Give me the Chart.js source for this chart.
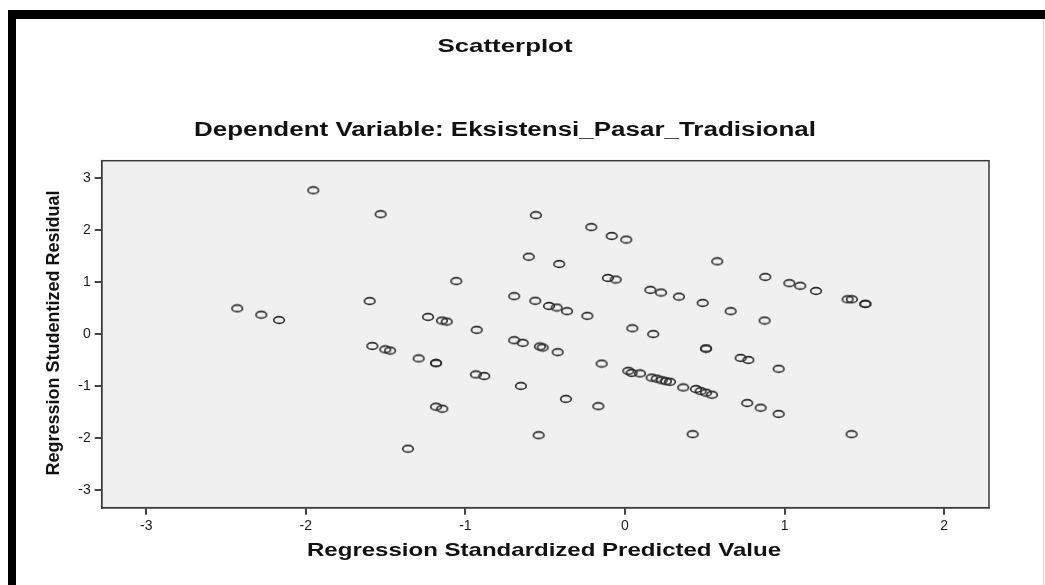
<!DOCTYPE html>
<html>
<head>
<meta charset="utf-8">
<script src="https://cdn.jsdelivr.net/npm/chart.js@4.4.1/dist/chart.umd.min.js"></script>
<style>
  html, body { margin: 0; padding: 0; background: #fff; }
  #wrap { position: relative; width: 1045px; height: 585px; overflow: hidden; }
  #topbar { position: absolute; left: 8px; top: 10px; width: 1037px; height: 9px; background: #000; }
  #leftbar { position: absolute; left: 8px; top: 10px; width: 8px; height: 575px; background: #000; }
  #rightline { position: absolute; left: 1043px; top: 19px; width: 1px; height: 566px; background: #d8d8d8; }
  canvas { position: absolute; left: 0; top: 0; }
</style>
</head>
<body>
<div id="wrap">
  <div id="topbar"></div>
  <div id="leftbar"></div>
  <div id="rightline"></div>
  <canvas id="c" width="1045" height="585"></canvas>
</div>
<script>
// ---- Data ----
const predictedValues = [
  -1.953, -1.531, -2.430, -2.279, -2.168, -1.600, -1.583, -0.558, -0.211, -0.083,
   0.008, -0.603, -0.412, -1.057, -0.107, -0.058,  0.159,  0.226,  0.338, -0.694,
  -0.562, -0.476, -0.428, -0.363, -0.236, -1.234, -1.147, -1.117, -0.929,  0.046,
   0.177,  0.578,  0.879,  1.030,  1.098,  1.197,  1.395,  1.422,  1.506,  1.506,
   0.487,  0.662,  0.875, -1.502, -1.472, -1.293, -1.184, -1.184, -0.694, -0.641,
  -0.533, -0.516, -0.422, -0.146, -0.934, -0.882, -0.652,  0.021,  0.042,  0.094,
   0.167,  0.199,  0.230,  0.257,  0.282, -1.184, -1.145, -0.370, -0.167, -0.541,
  -1.360,  0.508,  0.508,  0.725,  0.773,  0.963,  0.365,  0.445,  0.474,  0.508,
   0.545,  0.766,  0.850,  0.963,  0.424,  1.420
];
const studentizedResiduals = [
   2.77,  2.31,  0.495, 0.372, 0.27,  0.636, -0.23,  2.29,  2.06,  1.89,
   1.82,  1.49,  1.35,  1.02,  1.08,  1.05,  0.85,  0.80,  0.72,  0.73,
   0.64,  0.54,  0.51,  0.44,  0.35,  0.33,  0.26,  0.24,  0.08,  0.11,
   0.00,  1.40,  1.10,  0.98,  0.93,  0.83,  0.67,  0.67,  0.58,  0.58,
   0.60,  0.44,  0.26, -0.295, -0.32, -0.47, -0.56, -0.56, -0.12, -0.17,
  -0.24, -0.26, -0.35, -0.57, -0.78, -0.81, -1.00, -0.71, -0.75, -0.76,
  -0.84, -0.86, -0.89, -0.91, -0.92, -1.40, -1.44, -1.25, -1.39, -1.95,
  -2.21, -0.28, -0.28, -0.46, -0.50, -0.67, -1.03, -1.06, -1.10, -1.13,
  -1.17, -1.33, -1.42, -1.54, -1.93, -1.93
];
const xTickValues = [-3, -2, -1, 0, 1, 2];
const yTickValues = [-3, -2, -1, 0, 1, 2, 3];
const mainTitle = "Scatterplot";
const subTitle = "Dependent Variable: Eksistensi_Pasar_Tradisional";
const xAxisTitle = "Regression Standardized Predicted Value";
const yAxisTitle = "Regression Studentized Residual";

// ---- Marker: open ellipse like the original ----
const marker = document.createElement('canvas');
marker.width = 14; marker.height = 10;
(function () {
  const m = marker.getContext('2d');
  m.strokeStyle = '#2a2a2a';
  m.lineWidth = 1.6;
  m.beginPath();
  m.ellipse(7, 5, 5.3, 3.4, 0, 0, Math.PI * 2);
  m.stroke();
})();

const points = predictedValues.map((x, i) => ({ x: x, y: studentizedResiduals[i] }));

// ---- Plugin: plot background, frame, stretched titles ----
function drawStretched(ctx, text, cx, cy, fontPx, targetLen, rotate) {
  ctx.save();
  ctx.font = 'bold ' + fontPx + 'px "Liberation Sans", Arial, sans-serif';
  ctx.fillStyle = '#111';
  ctx.textAlign = 'center';
  ctx.textBaseline = 'middle';
  const w = ctx.measureText(text).width;
  const s = targetLen / w;
  ctx.translate(cx, cy);
  if (rotate) ctx.rotate(-Math.PI / 2);
  ctx.scale(s, 1);
  ctx.fillText(text, 0, 0);
  ctx.restore();
}

const framePlugin = {
  id: 'framePlugin',
  beforeDraw(chart) {
    const { ctx, chartArea: a } = chart;
    ctx.save();
    ctx.fillStyle = '#f0f0f0';
    ctx.fillRect(a.left, a.top, a.right - a.left, a.bottom - a.top);
    ctx.restore();
  },
  afterDraw(chart) {
    const { ctx, chartArea: a } = chart;
    ctx.save();
    ctx.strokeStyle = '#3a3a3a';
    ctx.lineWidth = 1.5;
    ctx.strokeRect(a.left, a.top, a.right - a.left, a.bottom - a.top);
    ctx.restore();
    drawStretched(ctx, mainTitle, 505, 47, 19, 135, false);
    drawStretched(ctx, subTitle, 505, 130, 20, 622, false);
    drawStretched(ctx, xAxisTitle, 544, 551, 19, 474, false);
    drawStretched(ctx, yAxisTitle, 54, 333, 19, 285, true);
  }
};

new Chart(document.getElementById('c'), {
  type: 'scatter',
  data: {
    datasets: [{
      data: points,
      pointStyle: marker,
      pointRadius: 5,
      pointHoverRadius: 5,
      borderColor: '#333',
      backgroundColor: 'rgba(0,0,0,0)'
    }]
  },
  options: {
    responsive: false,
    animation: false,
    events: [],
    layout: { padding: { left: 0, top: 160.7, right: 56, bottom: 0 } },
    plugins: { legend: { display: false }, title: { display: false }, tooltip: { enabled: false } },
    scales: {
      x: {
        type: 'linear',
        min: -3.279,
        max: 2.281,
        afterBuildTicks: (s) => { s.ticks = xTickValues.map(v => ({ value: v })); },
        afterFit: (s) => { s.height = 77.3; },
        grid: { drawOnChartArea: false, drawTicks: true, tickLength: 7, color: '#444', lineWidth: 2 },
        border: { display: true, color: '#3a3a3a', width: 1.5 },
        ticks: {
          padding: 3,
          color: '#1a1a1a',
          font: { family: '"Liberation Sans", Arial, sans-serif', size: 14 },
          callback: (v) => String(v)
        }
      },
      y: {
        type: 'linear',
        min: -3.347,
        max: 3.34,
        afterBuildTicks: (s) => { s.ticks = yTickValues.map(v => ({ value: v })); },
        afterFit: (s) => { s.width = 101.7; },
        grid: { drawOnChartArea: false, drawTicks: true, tickLength: 7, color: '#444', lineWidth: 2 },
        border: { display: true, color: '#3a3a3a', width: 1.5 },
        ticks: {
          padding: 4,
          color: '#1a1a1a',
          font: { family: '"Liberation Sans", Arial, sans-serif', size: 14 },
          callback: (v) => String(v)
        }
      }
    }
  },
  plugins: [framePlugin]
});
</script>
</body>
</html>
